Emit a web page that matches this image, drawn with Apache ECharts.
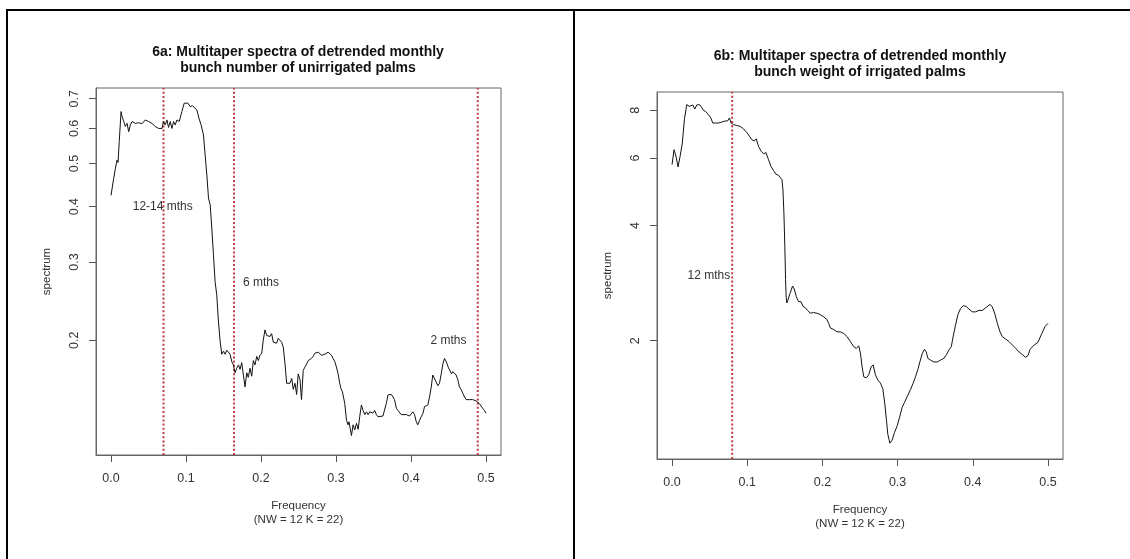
<!DOCTYPE html>
<html>
<head>
<meta charset="utf-8">
<script src="https://cdn.jsdelivr.net/npm/echarts@6/dist/echarts.min.js"></script>
<style>
html,body{margin:0;padding:0;background:#fff;}
#wrap{position:relative;width:1130px;height:559px;background:#fff;}
#c{position:absolute;left:0;top:0;width:1130px;height:559px;}
.rule{position:absolute;background:#000;pointer-events:none;}
</style>
</head>
<body>
<div id="wrap">
<div id="c"></div>
<div class="rule" style="left:6px;top:9px;width:1124px;height:2px;"></div>
<div class="rule" style="left:6px;top:9px;width:2px;height:550px;"></div>
<div class="rule" style="left:573px;top:9px;width:2px;height:550px;"></div>
</div>
<script>
// ---- Panel 6a data (frequency, spectrum) ----
const freqA = [0.000,0.0036,0.0059,0.008,0.0094,0.011,0.0134,0.0148,0.017,0.019,0.0214,0.0236,0.0258,0.028,0.0324,0.0368,0.0414,0.0457,0.050,0.0546,0.059,0.0613,0.0634,0.0657,0.068,0.070,0.0723,0.0746,0.0767,0.079,0.0812,0.0834,0.0856,0.0879,0.091,0.0945,0.0976,0.0999,0.1025,0.1056,0.1087,0.1113,0.1145,0.1176,0.120,0.1233,0.1255,0.1278,0.130,0.1322,0.1344,0.1366,0.1388,0.141,0.1432,0.1455,0.1477,0.150,0.152,0.1544,0.1565,0.1588,0.161,0.1632,0.1654,0.1677,0.170,0.172,0.1743,0.1765,0.1787,0.181,0.183,0.1854,0.1876,0.1898,0.192,0.1943,0.1964,0.1987,0.201,0.203,0.2053,0.2076,0.2097,0.212,0.2142,0.2164,0.2186,0.2208,0.223,0.2253,0.2275,0.2297,0.232,0.2342,0.2364,0.2386,0.241,0.243,0.2453,0.2475,0.2496,0.252,0.254,0.2563,0.2585,0.261,0.263,0.2652,0.2673,0.2696,0.2718,0.274,0.2763,0.2785,0.2807,0.283,0.2851,0.2873,0.2895,0.2917,0.294,0.296,0.2984,0.3006,0.3028,0.305,0.3064,0.3086,0.3099,0.3117,0.314,0.316,0.3173,0.3193,0.3206,0.3228,0.325,0.3273,0.3295,0.3316,0.3339,0.336,0.3384,0.3406,0.3428,0.345,0.3472,0.349,0.3516,0.3538,0.356,0.3582,0.3626,0.3648,0.367,0.3693,0.3715,0.3737,0.376,0.378,0.3805,0.3826,0.385,0.387,0.389,0.3937,0.398,0.4003,0.4025,0.4048,0.407,0.409,0.4114,0.4136,0.416,0.418,0.4202,0.4225,0.4247,0.427,0.429,0.4314,0.4336,0.4358,0.438,0.4403,0.4425,0.4447,0.447,0.4496,0.4518,0.454,0.4557,0.458,0.4602,0.4624,0.4646,0.4668,0.469,0.4713,0.4735,0.4757,0.478,0.480,0.4823,0.4846,0.4868,0.489,0.4912,0.4934,0.4956,0.4978,0.500];
const specA = [0.424,0.463,0.488,0.509,0.503,0.561,0.655,0.638,0.622,0.606,0.616,0.590,0.611,0.622,0.616,0.618,0.615,0.627,0.622,0.616,0.606,0.609,0.600,0.606,0.600,0.622,0.611,0.627,0.603,0.622,0.600,0.622,0.611,0.627,0.622,0.655,0.684,0.690,0.684,0.672,0.675,0.678,0.660,0.630,0.612,0.580,0.523,0.471,0.418,0.404,0.358,0.312,0.271,0.253,0.221,0.199,0.186,0.189,0.186,0.190,0.189,0.186,0.179,0.176,0.169,0.173,0.176,0.172,0.178,0.167,0.157,0.169,0.165,0.173,0.166,0.180,0.176,0.184,0.180,0.185,0.187,0.200,0.211,0.205,0.207,0.204,0.207,0.198,0.197,0.197,0.202,0.200,0.198,0.193,0.177,0.160,0.160,0.160,0.164,0.155,0.160,0.151,0.168,0.163,0.147,0.171,0.174,0.177,0.180,0.179,0.182,0.184,0.187,0.188,0.188,0.187,0.185,0.185,0.186,0.185,0.188,0.187,0.185,0.182,0.179,0.174,0.168,0.160,0.156,0.153,0.154,0.144,0.132,0.129,0.131,0.1256,0.122,0.129,0.1256,0.130,0.126,0.1345,0.143,0.139,0.136,0.138,0.136,0.138,0.137,0.137,0.139,0.136,0.1345,0.135,0.135,0.136,0.144,0.1506,0.152,0.151,0.149,0.147,0.1405,0.139,0.138,0.136,0.135,0.136,0.135,0.136,0.138,0.136,0.131,0.129,0.132,0.1345,0.137,0.1417,0.1405,0.143,0.149,0.157,0.167,0.166,0.161,0.158,0.160,0.168,0.177,0.182,0.179,0.174,0.173,0.168,0.170,0.170,0.167,0.163,0.157,0.155,0.152,0.149,0.147,0.148,0.147,0.146,0.147,0.146,0.146,0.146,0.144,0.143,0.1405,0.139,0.137];

// ---- Panel 6b data ----
const freqB = [0.0,0.0027,0.0053,0.008,0.0107,0.0137,0.0164,0.0196,0.0227,0.025,0.0276,0.0303,0.0329,0.036,0.0387,0.0417,0.0449,0.0484,0.0516,0.0542,0.0573,0.0617,0.066,0.0706,0.0737,0.0764,0.0786,0.0817,0.0862,0.0906,0.095,0.0995,0.103,0.1062,0.1093,0.112,0.115,0.1186,0.1217,0.1249,0.1284,0.1315,0.135,0.138,0.1417,0.144,0.1462,0.1475,0.1488,0.150,0.151,0.1518,0.1528,0.155,0.157,0.1603,0.1626,0.1652,0.1683,0.1715,0.1742,0.1772,0.1803,0.1839,0.1883,0.1928,0.1972,0.2016,0.2062,0.2083,0.2106,0.215,0.2195,0.2239,0.2283,0.2328,0.2372,0.2416,0.2452,0.2483,0.2505,0.2528,0.255,0.2585,0.2616,0.2648,0.2675,0.2705,0.2736,0.2772,0.2803,0.283,0.2852,0.287,0.2897,0.2928,0.2958,0.2995,0.303,0.3061,0.3092,0.3128,0.3172,0.3207,0.3238,0.3269,0.3296,0.3327,0.3358,0.3381,0.3402,0.3438,0.3482,0.3527,0.3571,0.3616,0.3651,0.3682,0.3714,0.3741,0.3771,0.3802,0.3838,0.3874,0.391,0.3949,0.3994,0.4038,0.4082,0.4127,0.4149,0.4185,0.4229,0.426,0.4291,0.4327,0.4362,0.4393,0.4438,0.4482,0.4527,0.4571,0.4615,0.466,0.4704,0.4735,0.4762,0.4817,0.4866,0.4914,0.4962,0.500];
const specB = [5.77,6.31,6.06,5.69,6.06,6.57,7.56,8.28,8.19,8.10,8.26,8.06,8.26,8.28,8.19,8.00,7.94,7.79,7.64,7.41,7.41,7.41,7.45,7.50,7.50,7.64,7.41,7.34,7.30,7.26,7.15,7.00,6.84,6.70,6.65,6.74,6.44,6.25,6.16,6.20,5.94,5.71,5.57,5.45,5.41,5.43,5.27,4.96,4.31,3.53,2.89,2.60,2.51,2.48,2.66,2.78,2.73,2.61,2.53,2.53,2.46,2.44,2.40,2.36,2.37,2.36,2.34,2.31,2.27,2.22,2.16,2.14,2.11,2.11,2.09,2.05,1.99,1.93,1.91,1.94,1.86,1.71,1.61,1.60,1.63,1.71,1.73,1.63,1.58,1.55,1.50,1.37,1.24,1.14,1.08,1.10,1.15,1.20,1.27,1.34,1.38,1.43,1.49,1.55,1.61,1.68,1.76,1.85,1.90,1.87,1.80,1.78,1.76,1.76,1.78,1.80,1.84,1.89,1.93,2.06,2.20,2.34,2.43,2.47,2.46,2.42,2.38,2.38,2.40,2.40,2.42,2.45,2.49,2.45,2.36,2.22,2.11,2.05,2.02,1.99,1.95,1.91,1.87,1.84,1.81,1.83,1.90,1.95,1.98,2.08,2.18,2.22];

// ---- Axes ----
const xTicks = [0, 0.1, 0.2, 0.3, 0.4, 0.5];
const yTicksA = [0.2, 0.3, 0.4, 0.5, 0.6, 0.7];
const yTicksB = [2, 4, 6, 8];
const xRange = [-0.02, 0.52];
const yRangeA = [0.1103, 0.740];
const yRangeB = [0.982, 8.93];

// ---- Period markers and annotations ----
const periodLinesA = [0.070, 0.164, 0.489];
const periodLinesB = [0.080];
const noteTextA = ['12-14 mths', '6 mths', '2 mths'];
const noteXA = [0.069, 0.200, 0.450];
const noteYA = [0.400, 0.270, 0.200];
const noteTextB = ['12 mths'];
const noteXB = [0.049];
const noteYB = [2.96];

const titleA = '6a: Multitaper spectra of detrended monthly\nbunch number of unirrigated palms';
const titleB = '6b: Multitaper spectra of detrended monthly\nbunch weight of irrigated palms';
const xName = 'Frequency\n(NW = 12 K = 22)';
const yName = 'spectrum';

const FONT = 'Liberation Sans, Arial, sans-serif';
const chart = echarts.init(document.getElementById('c'));

function xAxisCfg(gi) {
  return {
    type: 'value', gridIndex: gi, min: xRange[0], max: xRange[1], position: 'bottom',
    axisLine: {show: true, onZero: false, lineStyle: {color: '#666', width: 1}}, splitLine: {show: false},
    axisTick: {show: true, customValues: xTicks, length: 7, inside: false, lineStyle: {color: '#555', width: 1}},
    axisLabel: {customValues: xTicks, formatter: v => v.toFixed(1), margin: 17, fontSize: 12.5, color: '#333', fontFamily: FONT},
    name: xName, nameLocation: 'middle', nameGap: 44,
    nameTextStyle: {fontSize: 11.5, lineHeight: 14, color: '#333', fontFamily: FONT}
  };
}
function yAxisCfg(gi, range, ticks, fmt) {
  return {
    type: 'log', gridIndex: gi, logBase: 10, min: range[0], max: range[1], position: 'left',
    axisLine: {show: true, onZero: false, lineStyle: {color: '#666', width: 1}}, splitLine: {show: false},
    axisTick: {show: true, customValues: ticks, length: 7, inside: false, lineStyle: {color: '#555', width: 1}},
    axisLabel: {customValues: ticks, formatter: fmt, rotate: 90, margin: 15, fontSize: 12.5, color: '#333', fontFamily: FONT},
    name: yName, nameLocation: 'middle', nameGap: 43,
    nameTextStyle: {fontSize: 11.5, color: '#333', fontFamily: FONT}
  };
}
function spectrumSeries(xi, xs, ys) {
  return {
    type: 'line', xAxisIndex: xi, yAxisIndex: xi, showSymbol: false,
    lineStyle: {color: '#111', width: 1}, z: 3,
    data: xs.map((f, i) => [f, ys[i]])
  };
}
function markerSeries(xi, v, range) {
  return {
    type: 'line', xAxisIndex: xi, yAxisIndex: xi, showSymbol: false, z: 2,
    lineStyle: {color: '#c23a3a', width: 2, type: [2, 2.2]},
    data: [[v, range[0]], [v, range[1]]]
  };
}
function noteSeries(xi, text, x, y) {
  return {
    type: 'line', xAxisIndex: xi, yAxisIndex: xi, showSymbol: true, symbol: 'circle', symbolSize: 1, z: 4,
    itemStyle: {color: 'rgba(0,0,0,0)'}, lineStyle: {width: 0},
    label: {show: true, position: 'inside', formatter: text, fontSize: 12, color: '#333', fontFamily: FONT},
    data: [[x, y]]
  };
}

const series = [spectrumSeries(0, freqA, specA), spectrumSeries(1, freqB, specB)];
periodLinesA.forEach(v => series.push(markerSeries(0, v, yRangeA)));
periodLinesB.forEach(v => series.push(markerSeries(1, v, yRangeB)));
noteTextA.forEach((t, i) => series.push(noteSeries(0, t, noteXA[i], noteYA[i])));
noteTextB.forEach((t, i) => series.push(noteSeries(1, t, noteXB[i], noteYB[i])));

chart.setOption({
  animation: false,
  title: [
    {text: titleA, left: 298, top: 43.5, textAlign: 'center', padding: 0,
     textStyle: {fontSize: 14, fontWeight: 'bold', lineHeight: 16.5, color: '#111', fontFamily: FONT}},
    {text: titleB, left: 860, top: 47.5, textAlign: 'center', padding: 0,
     textStyle: {fontSize: 14, fontWeight: 'bold', lineHeight: 16.5, color: '#111', fontFamily: FONT}}
  ],
  grid: [
    {left: 96, top: 88, width: 405, height: 367, show: true, borderColor: '#666', borderWidth: 1, backgroundColor: 'transparent'},
    {left: 657, top: 92, width: 406, height: 367, show: true, borderColor: '#666', borderWidth: 1, backgroundColor: 'transparent'}
  ],
  xAxis: [xAxisCfg(0), xAxisCfg(1)],
  yAxis: [
    yAxisCfg(0, yRangeA, yTicksA, v => Number(v).toFixed(1)),
    yAxisCfg(1, yRangeB, yTicksB, v => String(Math.round(v)))
  ],
  series: series
});
</script>
</body>
</html>
